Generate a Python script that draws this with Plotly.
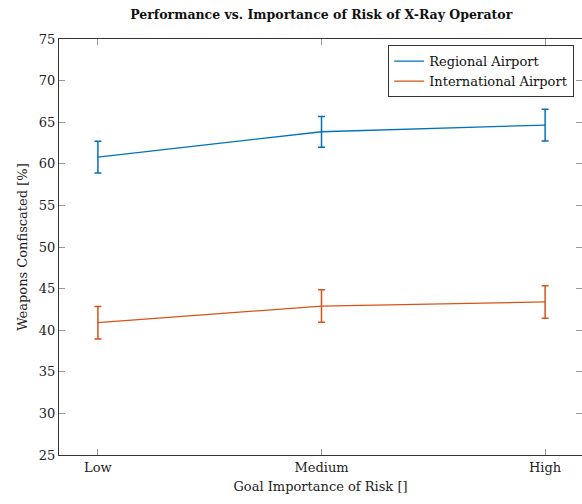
import plotly.graph_objects as go

# Goal importance levels along the x axis
levels = ["Low", "Medium", "High"]

# Mean share of weapons confiscated [%] and error (half-width)
regional_mean = [60.8, 63.85, 64.65]
regional_err = [1.9, 1.85, 1.9]
international_mean = [40.9, 42.9, 43.4]
international_err = [1.95, 1.95, 1.95]

y_ticks = [25, 30, 35, 40, 45, 50, 55, 60, 65, 70, 75]

BLUE = "#0072BD"
ORANGE = "#D95319"
FONT = "DejaVu Serif"

x_idx = list(range(len(levels)))

fig = go.Figure()
fig.add_trace(go.Scatter(
    x=x_idx, y=regional_mean, mode="lines", name="Regional Airport",
    line=dict(color=BLUE, width=1.3),
    error_y=dict(type="data", array=regional_err, color=BLUE, thickness=1.5, width=3.5),
))
fig.add_trace(go.Scatter(
    x=x_idx, y=international_mean, mode="lines", name="International Airport",
    line=dict(color=ORANGE, width=1.3),
    error_y=dict(type="data", array=international_err, color=ORANGE, thickness=1.5, width=3.5),
))

fig.update_layout(
    width=582, height=504,
    margin=dict(l=59, r=0, t=39, b=49),
    plot_bgcolor="white", paper_bgcolor="white",
    font=dict(family=FONT, size=13, color="#222222"),
    title=dict(
        text="<b>Performance vs. Importance of Risk of X-Ray Operator</b>",
        x=0.552, xanchor="center", y=0.97, yanchor="middle",
        font=dict(family=FONT, size=12.5, color="#111111"),
    ),
    showlegend=True,
    legend=dict(
        x=0.985, xanchor="right", y=0.985, yanchor="top",
        bgcolor="white", bordercolor="#333333", borderwidth=1,
        font=dict(family=FONT, size=13, color="#111111"),
        itemwidth=30, tracegroupgap=0,
    ),
    xaxis=dict(
        range=[-0.174, 2.165],
        tickmode="array", tickvals=x_idx, ticktext=levels,
        ticks="inside", ticklen=6, tickcolor="#999999", tickwidth=1,
        showline=True, linecolor="#333333", linewidth=1.3, mirror="ticks",
        showgrid=False, zeroline=False,
        title=dict(text="Goal Importance of Risk []", standoff=8,
                   font=dict(family=FONT, size=13, color="#222222")),
    ),
    yaxis=dict(
        range=[25, 75],
        tickmode="array", tickvals=y_ticks,
        ticks="inside", ticklen=6, tickcolor="#999999", tickwidth=1,
        showline=True, linecolor="#333333", linewidth=1.3, mirror="ticks",
        showgrid=False, zeroline=False,
        title=dict(text="Weapons Confiscated [%]", standoff=8,
                   font=dict(family=FONT, size=13, color="#222222")),
    ),
)

fig.write_html("out.html")
